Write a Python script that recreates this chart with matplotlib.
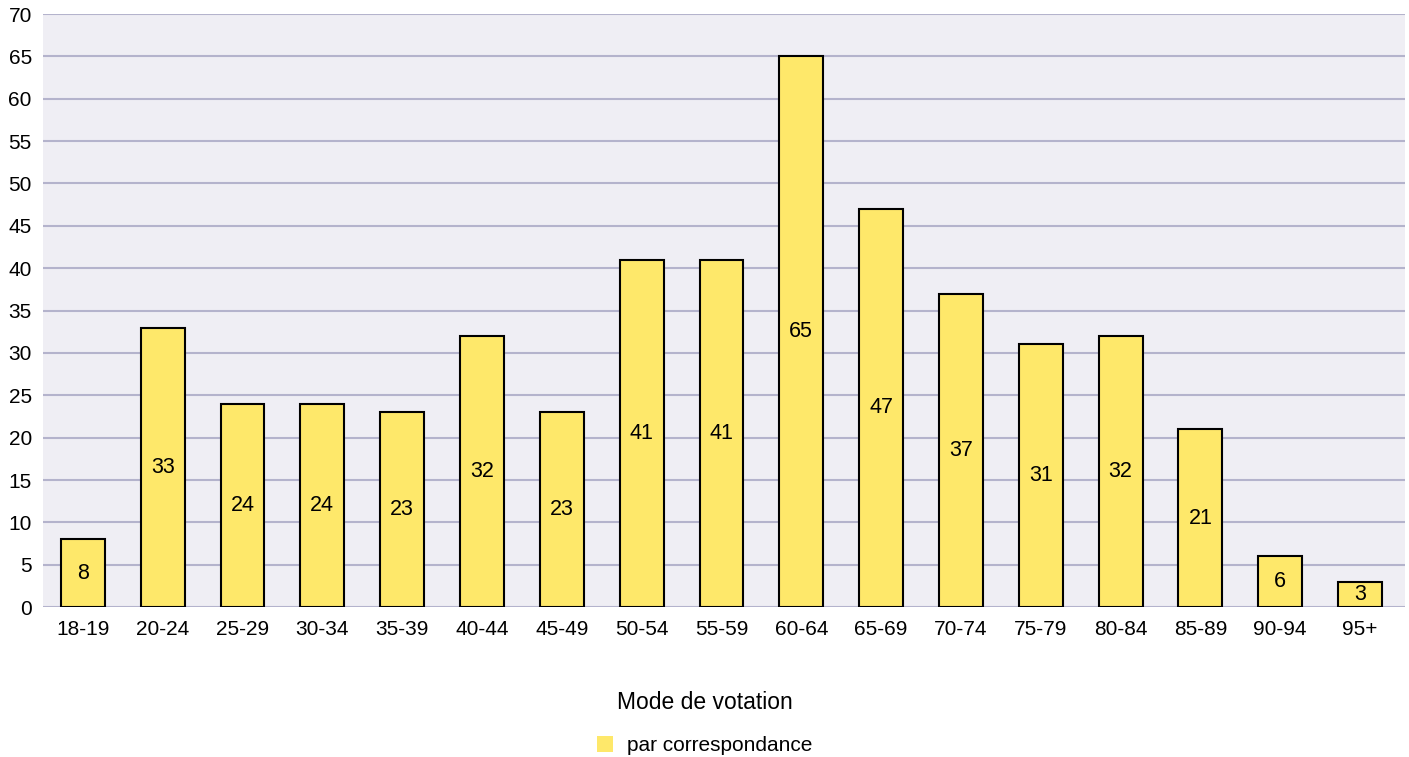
import matplotlib.pyplot as plt
from matplotlib.patches import Patch

plt.rcParams['font.family'] = ['Liberation Sans', 'DejaVu Sans']

# Data
age_groups = ["18-19", "20-24", "25-29", "30-34", "35-39", "40-44", "45-49",
              "50-54", "55-59", "60-64", "65-69", "70-74", "75-79", "80-84",
              "85-89", "90-94", "95+"]
par_correspondance = [8, 33, 24, 24, 23, 32, 23, 41, 41, 65, 47, 37, 31, 32, 21, 6, 3]

BAR_COLOR = "#FEE86A"
BG_COLOR = "#EFEEF4"
GRID_COLOR = "#B4B3CC"

fig = plt.figure(figsize=(14.09, 7.57), dpi=100)
ax = fig.add_axes([0.0305, 0.198, 0.9665, 0.7835])
ax.set_facecolor(BG_COLOR)

x = range(len(age_groups))
bars = ax.bar(x, par_correspondance, width=0.55, color=BAR_COLOR,
              edgecolor="black", linewidth=1.5, zorder=3)

# value labels in the middle of each bar
for rect, v in zip(bars, par_correspondance):
    ax.text(rect.get_x() + rect.get_width() / 2, v / 2, str(v),
            ha="center", va="center", fontsize=15.5, zorder=4)

ax.set_xlim(-0.5, len(age_groups) - 0.44)
ax.set_ylim(0, 70)
ax.set_yticks(range(0, 71, 5))
ax.set_xticks(list(x))
ax.set_xticklabels(age_groups)
ax.tick_params(axis="both", length=0, labelsize=15)
ax.tick_params(axis="x", pad=9)
ax.tick_params(axis="y", pad=8)
ax.yaxis.grid(True, color=GRID_COLOR, linewidth=1.5, zorder=0)
ax.set_axisbelow(True)
for s in ax.spines.values():
    s.set_visible(False)

handles = [Patch(facecolor=BAR_COLOR, edgecolor="none", label="par correspondance")]
leg = fig.legend(handles=handles, title="Mode de votation", loc="center",
                 bbox_to_anchor=(0.5, 0.045), frameon=False, fontsize=15,
                 title_fontsize=16.5, handlelength=0.8, handleheight=0.8,
                 handletextpad=0.65)
leg._legend_box.sep = 16

fig.savefig("out.png", dpi=100)
